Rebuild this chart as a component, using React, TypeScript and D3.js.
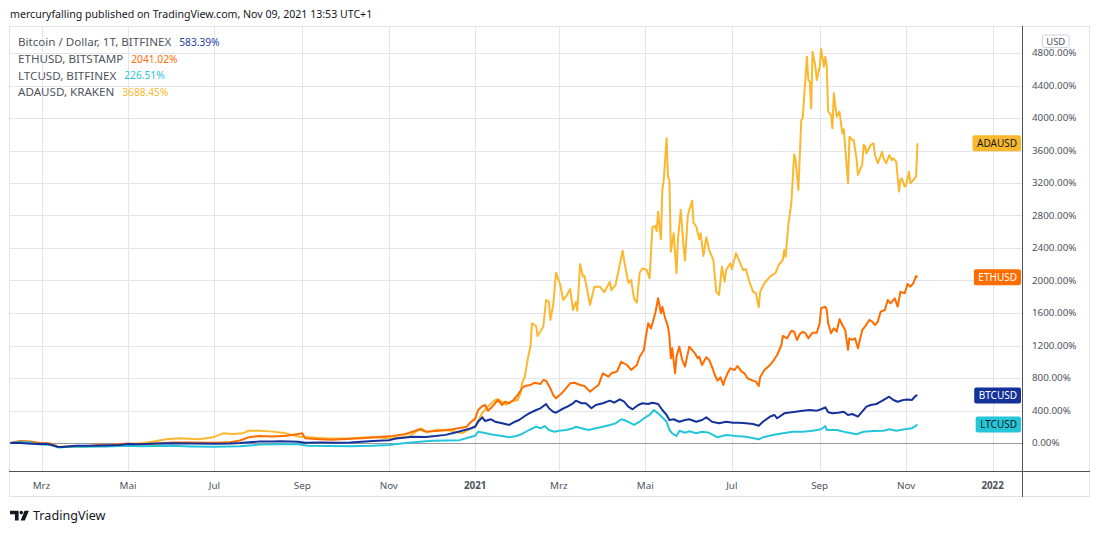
import React, { useEffect, useRef } from 'react';
import * as d3 from 'd3';

type Pt = [string, number];

// % change since the first visible bar
const btcSeries: Pt[] = [
  ['2020-02-08', 0], ['2020-02-13', 3], ['2020-02-20', -5], ['2020-02-27', -13], ['2020-03-05', -10],
  ['2020-03-12', -45], ['2020-03-16', -50], ['2020-03-25', -33], ['2020-04-05', -33], ['2020-04-15', -30],
  ['2020-04-25', -25], ['2020-05-01', -12], ['2020-05-10', -15], ['2020-05-20', -5], ['2020-06-01', -2],
  ['2020-06-15', -7], ['2020-07-01', -8], ['2020-07-12', -6], ['2020-07-19', 0], ['2020-07-28', 12],
  ['2020-08-02', 20], ['2020-08-11', 18], ['2020-08-17', 22], ['2020-08-29', 14], ['2020-09-03', 3],
  ['2020-09-15', 5], ['2020-09-25', 4], ['2020-10-05', 5], ['2020-10-10', 12], ['2020-10-21', 25],
  ['2020-11-01', 35], ['2020-11-06', 55], ['2020-11-18', 78], ['2020-11-27', 75], ['2020-12-04', 86],
  ['2020-12-11', 100], ['2020-12-18', 130], ['2020-12-28', 175], ['2021-01-01', 200], ['2021-01-03', 262],
  ['2021-01-06', 316], ['2021-01-08', 270], ['2021-01-12', 292], ['2021-01-15', 262], ['2021-01-20', 242],
  ['2021-01-25', 222], ['2021-01-29', 262], ['2021-02-01', 283], ['2021-02-05', 332], ['2021-02-08', 365],
  ['2021-02-13', 406], ['2021-02-16', 427], ['2021-02-20', 480], ['2021-02-22', 427], ['2021-02-25', 385],
  ['2021-02-27', 373], ['2021-03-03', 415], ['2021-03-07', 447], ['2021-03-11', 489], ['2021-03-13', 521],
  ['2021-03-17', 489], ['2021-03-20', 489], ['2021-03-24', 427], ['2021-03-27', 468], ['2021-04-01', 489],
  ['2021-04-06', 521], ['2021-04-09', 496], ['2021-04-13', 538], ['2021-04-16', 509], ['2021-04-19', 447],
  ['2021-04-22', 415], ['2021-04-26', 468], ['2021-04-29', 489], ['2021-05-03', 480], ['2021-05-06', 496],
  ['2021-05-10', 480], ['2021-05-13', 406], ['2021-05-16', 345], ['2021-05-18', 283], ['2021-05-21', 292],
  ['2021-05-25', 262], ['2021-05-29', 283], ['2021-06-01', 292], ['2021-06-06', 262], ['2021-06-10', 283],
  ['2021-06-13', 316], ['2021-06-17', 262], ['2021-06-22', 242], ['2021-06-27', 262], ['2021-07-02', 250],
  ['2021-07-06', 250], ['2021-07-11', 242], ['2021-07-16', 234], ['2021-07-20', 213], ['2021-07-23', 262],
  ['2021-07-28', 324], ['2021-07-31', 345], ['2021-08-02', 304], ['2021-08-07', 365], ['2021-08-12', 378],
  ['2021-08-15', 385], ['2021-08-20', 398], ['2021-08-25', 406], ['2021-08-30', 398], ['2021-09-02', 415],
  ['2021-09-05', 439], ['2021-09-07', 378], ['2021-09-10', 365], ['2021-09-14', 373], ['2021-09-18', 385],
  ['2021-09-21', 345], ['2021-09-24', 357], ['2021-09-28', 324], ['2021-10-01', 385], ['2021-10-04', 447],
  ['2021-10-07', 468], ['2021-10-11', 480], ['2021-10-14', 508], ['2021-10-18', 550], ['2021-10-20', 570],
  ['2021-10-23', 529], ['2021-10-26', 508], ['2021-10-30', 529], ['2021-11-02', 535], ['2021-11-05', 529],
  ['2021-11-08', 585], ['2021-11-09', 583.39],
];

const ethSeries: Pt[] = [
  ['2020-02-08', 0], ['2020-02-15', 25], ['2020-02-22', 18], ['2020-02-29', 0], ['2020-03-07', -5],
  ['2020-03-13', -48], ['2020-03-20', -42], ['2020-04-01', -40], ['2020-04-10', -25], ['2020-04-20', -22],
  ['2020-05-01', -5], ['2020-05-10', -15], ['2020-05-20', -8], ['2020-06-01', 5], ['2020-06-15', 5],
  ['2020-07-01', 2], ['2020-07-12', 10], ['2020-07-19', 30], ['2020-07-26', 75], ['2020-08-02', 85],
  ['2020-08-11', 80], ['2020-08-21', 90], ['2020-08-29', 111], ['2020-09-01', 119], ['2020-09-03', 58],
  ['2020-09-13', 45], ['2020-09-22', 40], ['2020-10-02', 50], ['2020-10-16', 62], ['2020-10-25', 75],
  ['2020-11-04', 86], ['2020-11-13', 111], ['2020-11-23', 169], ['2020-11-27', 140], ['2020-12-07', 151],
  ['2020-12-16', 169], ['2020-12-26', 201], ['2020-12-28', 242], ['2021-01-01', 300], ['2021-01-03', 406],
  ['2021-01-06', 455], ['2021-01-08', 468], ['2021-01-10', 397], ['2021-01-13', 447], ['2021-01-15', 489],
  ['2021-01-17', 529], ['2021-01-20', 468], ['2021-01-22', 509], ['2021-01-25', 489], ['2021-01-28', 529],
  ['2021-01-31', 591], ['2021-02-03', 673], ['2021-02-05', 701], ['2021-02-09', 714], ['2021-02-12', 742],
  ['2021-02-16', 726], ['2021-02-18', 775], ['2021-02-20', 767], ['2021-02-23', 673], ['2021-02-25', 591],
  ['2021-02-27', 550], ['2021-03-03', 611], ['2021-03-06', 673], ['2021-03-09', 734], ['2021-03-12', 742],
  ['2021-03-16', 714], ['2021-03-19', 701], ['2021-03-23', 632], ['2021-03-25', 662], ['2021-03-29', 714],
  ['2021-04-01', 858], ['2021-04-05', 817], ['2021-04-07', 858], ['2021-04-11', 878], ['2021-04-14', 1000],
  ['2021-04-18', 960], ['2021-04-21', 899], ['2021-04-25', 960], ['2021-04-27', 1062], ['2021-04-30', 1145],
  ['2021-05-01', 1268], ['2021-05-03', 1473], ['2021-05-05', 1411], ['2021-05-07', 1535], ['2021-05-08', 1596],
  ['2021-05-10', 1781], ['2021-05-12', 1596], ['2021-05-13', 1678], ['2021-05-15', 1535], ['2021-05-17', 1432],
  ['2021-05-18', 1309], ['2021-05-19', 1043], ['2021-05-20', 1165], ['2021-05-22', 858], ['2021-05-23', 1063],
  ['2021-05-25', 1186], ['2021-05-27', 1022], ['2021-05-29', 940], ['2021-06-01', 1186], ['2021-06-03', 1145],
  ['2021-06-05', 1104], ['2021-06-07', 1043], ['2021-06-08', 1063], ['2021-06-10', 960], ['2021-06-13', 1055],
  ['2021-06-15', 1022], ['2021-06-17', 940], ['2021-06-19', 837], ['2021-06-21', 767], ['2021-06-23', 808],
  ['2021-06-25', 714], ['2021-06-26', 776], ['2021-06-28', 858], ['2021-06-30', 919], ['2021-07-03', 899],
  ['2021-07-05', 948], ['2021-07-08', 878], ['2021-07-10', 858], ['2021-07-12', 796], ['2021-07-16', 767],
  ['2021-07-18', 755], ['2021-07-20', 701], ['2021-07-21', 808], ['2021-07-24', 899], ['2021-07-28', 960],
  ['2021-07-31', 1030], ['2021-08-02', 1083], ['2021-08-05', 1206], ['2021-08-06', 1317], ['2021-08-09', 1288],
  ['2021-08-12', 1382], ['2021-08-14', 1370], ['2021-08-16', 1268], ['2021-08-18', 1342], ['2021-08-20', 1370],
  ['2021-08-22', 1350], ['2021-08-24', 1288], ['2021-08-27', 1358], ['2021-08-30', 1358], ['2021-09-01', 1473],
  ['2021-09-02', 1658], ['2021-09-05', 1678], ['2021-09-06', 1637], ['2021-09-07', 1473], ['2021-09-09', 1350],
  ['2021-09-11', 1411], ['2021-09-13', 1370], ['2021-09-15', 1523], ['2021-09-17', 1452], ['2021-09-19', 1391],
  ['2021-09-21', 1145], ['2021-09-22', 1288], ['2021-09-24', 1268], ['2021-09-26', 1288], ['2021-09-28', 1165],
  ['2021-10-01', 1391], ['2021-10-03', 1432], ['2021-10-06', 1514], ['2021-10-08', 1494], ['2021-10-10', 1452],
  ['2021-10-12', 1494], ['2021-10-14', 1616], ['2021-10-17', 1637], ['2021-10-19', 1760], ['2021-10-21', 1719],
  ['2021-10-24', 1781], ['2021-10-26', 1678], ['2021-10-28', 1862], ['2021-10-31', 1842], ['2021-11-02', 1957],
  ['2021-11-04', 1924], ['2021-11-06', 1965], ['2021-11-08', 2055], ['2021-11-09', 2041.02],
];

const ltcSeries: Pt[] = [
  ['2020-02-08', 0], ['2020-02-15', 12], ['2020-02-22', 5], ['2020-02-29', -20], ['2020-03-08', -25],
  ['2020-03-13', -55], ['2020-03-20', -45], ['2020-04-01', -45], ['2020-04-15', -43], ['2020-05-01', -35],
  ['2020-05-10', -40], ['2020-05-20', -38], ['2020-06-01', -35], ['2020-06-15', -42], ['2020-07-01', -45],
  ['2020-07-19', -40], ['2020-08-02', -20], ['2020-08-15', -15], ['2020-08-29', -15], ['2020-09-05', -35],
  ['2020-09-20', -38], ['2020-10-05', -40], ['2020-10-20', -35], ['2020-11-01', -25], ['2020-11-13', 0],
  ['2020-11-23', 16], ['2020-12-02', 28], ['2020-12-11', 30], ['2020-12-21', 35], ['2020-12-28', 70],
  ['2021-01-01', 90], ['2021-01-03', 139], ['2021-01-07', 127], ['2021-01-11', 111], ['2021-01-15', 98],
  ['2021-01-20', 86], ['2021-01-25', 70], ['2021-01-30', 86], ['2021-02-03', 111], ['2021-02-08', 160],
  ['2021-02-13', 201], ['2021-02-16', 181], ['2021-02-19', 209], ['2021-02-22', 160], ['2021-02-26', 139],
  ['2021-03-01', 151], ['2021-03-06', 160], ['2021-03-11', 181], ['2021-03-13', 201], ['2021-03-17', 181],
  ['2021-03-22', 160], ['2021-03-27', 181], ['2021-04-01', 201], ['2021-04-06', 222], ['2021-04-10', 242],
  ['2021-04-14', 292], ['2021-04-16', 283], ['2021-04-20', 250], ['2021-04-23', 222], ['2021-04-27', 262],
  ['2021-04-30', 304], ['2021-05-04', 345], ['2021-05-07', 406], ['2021-05-10', 365], ['2021-05-12', 332],
  ['2021-05-16', 262], ['2021-05-18', 160], ['2021-05-20', 119], ['2021-05-23', 86], ['2021-05-25', 151],
  ['2021-05-29', 127], ['2021-06-01', 145], ['2021-06-06', 119], ['2021-06-10', 139], ['2021-06-15', 125],
  ['2021-06-21', 70], ['2021-06-27', 98], ['2021-07-04', 86], ['2021-07-11', 78], ['2021-07-20', 45],
  ['2021-07-23', 70], ['2021-07-30', 98], ['2021-08-06', 119], ['2021-08-13', 139], ['2021-08-20', 139],
  ['2021-08-27', 151], ['2021-09-02', 169], ['2021-09-05', 209], ['2021-09-06', 160], ['2021-09-13', 160],
  ['2021-09-20', 131], ['2021-09-27', 107], ['2021-10-02', 139], ['2021-10-09', 148], ['2021-10-16', 151],
  ['2021-10-20', 169], ['2021-10-25', 151], ['2021-10-31', 169], ['2021-11-05', 181], ['2021-11-09', 226.51],
];

const adaSeries: Pt[] = [
  ['2020-02-08', 0], ['2020-02-15', 15], ['2020-02-22', 5], ['2020-02-29', -10], ['2020-03-07', -15],
  ['2020-03-13', -50], ['2020-03-20', -45], ['2020-04-01', -40], ['2020-04-15', -35], ['2020-05-01', -15],
  ['2020-05-15', 5], ['2020-05-28', 45], ['2020-06-06', 58], ['2020-06-20', 45], ['2020-06-30', 70],
  ['2020-07-07', 119], ['2020-07-14', 110], ['2020-07-21', 119], ['2020-07-25', 151], ['2020-08-02', 151],
  ['2020-08-11', 140], ['2020-08-18', 127], ['2020-08-25', 98], ['2020-08-30', 78], ['2020-09-05', 70],
  ['2020-09-20', 55], ['2020-10-05', 60], ['2020-10-20', 75], ['2020-11-03', 55], ['2020-11-15', 80],
  ['2020-11-24', 180], ['2020-11-28', 130], ['2020-12-05', 165], ['2020-12-15', 150], ['2020-12-23', 120],
  ['2020-12-28', 170], ['2021-01-01', 210], ['2021-01-06', 370], ['2021-01-10', 450], ['2021-01-15', 530],
  ['2021-01-17', 540], ['2021-01-23', 470], ['2021-01-26', 510], ['2021-01-31', 530], ['2021-02-02', 610],
  ['2021-02-03', 735], ['2021-02-05', 818], ['2021-02-07', 1030], ['2021-02-09', 1190], ['2021-02-10', 1473],
  ['2021-02-13', 1440], ['2021-02-14', 1317], ['2021-02-18', 1431], ['2021-02-20', 1760], ['2021-02-22', 1739],
  ['2021-02-23', 1514], ['2021-02-25', 1698], ['2021-02-27', 2096], ['2021-03-02', 1945], ['2021-03-04', 1760],
  ['2021-03-06', 1801], ['2021-03-09', 1895], ['2021-03-11', 1637], ['2021-03-13', 1739], ['2021-03-14', 1628],
  ['2021-03-16', 2203], ['2021-03-18', 2047], ['2021-03-19', 2059], ['2021-03-21', 1883], ['2021-03-23', 1698],
  ['2021-03-26', 1924], ['2021-03-30', 1924], ['2021-04-02', 1855], ['2021-04-06', 1985], ['2021-04-07', 1883],
  ['2021-04-10', 1945], ['2021-04-15', 2367], ['2021-04-16', 2252], ['2021-04-19', 1973], ['2021-04-21', 2006],
  ['2021-04-23', 1781], ['2021-04-25', 1727], ['2021-04-27', 2096], ['2021-04-29', 2150], ['2021-05-02', 2129],
  ['2021-05-04', 2027], ['2021-05-06', 2655], ['2021-05-08', 2671], ['2021-05-09', 2609], ['2021-05-10', 2847],
  ['2021-05-11', 2662], ['2021-05-12', 2507], ['2021-05-13', 3114], ['2021-05-14', 3237], ['2021-05-16', 3750],
  ['2021-05-17', 3278], ['2021-05-18', 3237], ['2021-05-19', 2355], ['2021-05-21', 2581], ['2021-05-23', 2089],
  ['2021-05-24', 2499], ['2021-05-26', 2868], ['2021-05-28', 2416], ['2021-05-29', 2244], ['2021-05-31', 2806],
  ['2021-06-03', 2982], ['2021-06-04', 2711], ['2021-06-06', 2662], ['2021-06-08', 2507], ['2021-06-09', 2581],
  ['2021-06-11', 2302], ['2021-06-13', 2532], ['2021-06-15', 2375], ['2021-06-18', 2252], ['2021-06-20', 1862],
  ['2021-06-22', 1822], ['2021-06-24', 2170], ['2021-06-26', 1985], ['2021-06-27', 2129], ['2021-06-30', 2212],
  ['2021-07-01', 2138], ['2021-07-04', 2335], ['2021-07-06', 2252], ['2021-07-09', 2129], ['2021-07-11', 2138],
  ['2021-07-13', 2006], ['2021-07-16', 1862], ['2021-07-18', 1842], ['2021-07-20', 1670], ['2021-07-21', 1862],
  ['2021-07-24', 1966], ['2021-07-28', 2047], ['2021-08-01', 2096], ['2021-08-03', 2191], ['2021-08-06', 2252],
  ['2021-08-07', 2375], ['2021-08-08', 2293], ['2021-08-10', 2704], ['2021-08-12', 2950], ['2021-08-14', 3553],
  ['2021-08-15', 3483], ['2021-08-17', 3114], ['2021-08-19', 3975], ['2021-08-20', 3996], ['2021-08-23', 4755],
  ['2021-08-24', 4468], ['2021-08-25', 4447], ['2021-08-26', 4120], ['2021-08-27', 4816], ['2021-08-29', 4632],
  ['2021-08-30', 4468], ['2021-09-01', 4632], ['2021-09-02', 4849], ['2021-09-04', 4632], ['2021-09-05', 4755],
  ['2021-09-06', 4632], ['2021-09-07', 4078], ['2021-09-09', 4037], ['2021-09-10', 3873], ['2021-09-11', 4304],
  ['2021-09-13', 4016], ['2021-09-15', 4078], ['2021-09-17', 3812], ['2021-09-18', 3861], ['2021-09-21', 3196],
  ['2021-09-22', 3770], ['2021-09-24', 3729], ['2021-09-25', 3729], ['2021-09-27', 3504], ['2021-09-28', 3299],
  ['2021-10-01', 3422], ['2021-10-02', 3668], ['2021-10-03', 3655], ['2021-10-04', 3566], ['2021-10-07', 3668],
  ['2021-10-09', 3689], ['2021-10-10', 3545], ['2021-10-12', 3443], ['2021-10-14', 3532], ['2021-10-15', 3585],
  ['2021-10-16', 3504], ['2021-10-18', 3443], ['2021-10-20', 3545], ['2021-10-22', 3483], ['2021-10-23', 3504],
  ['2021-10-25', 3462], ['2021-10-27', 3093], ['2021-10-28', 3237], ['2021-10-29', 3258], ['2021-10-31', 3155],
  ['2021-11-01', 3176], ['2021-11-03', 3339], ['2021-11-04', 3196], ['2021-11-07', 3258], ['2021-11-08', 3278],
  ['2021-11-09', 3688.45],
];

const xTickDates = [
  '2020-03-01', '2020-05-01', '2020-07-01', '2020-09-01', '2020-11-01', '2021-01-01',
  '2021-03-01', '2021-05-01', '2021-07-01', '2021-09-01', '2021-11-01', '2022-01-01',
];
const xTickLabels = ['Mrz', 'Mai', 'Jul', 'Sep', 'Nov', '2021', 'Mrz', 'Mai', 'Jul', 'Sep', 'Nov', '2022'];
const yTicks = [0, 400, 800, 1200, 1600, 2000, 2400, 2800, 3200, 3600, 4000, 4400, 4800];

const legendLabels = ['Bitcoin / Dollar, 1T, BITFINEX', 'ETHUSD, BITSTAMP', 'LTCUSD, BITFINEX', 'ADAUSD, KRAKEN'];
const legendValues = ['583.39%', '2041.02%', '226.51%', '3688.45%'];

const FONT = '"Noto Sans", "DejaVu Sans", sans-serif';

const App: React.FC = () => {
  const svgRef = useRef<SVGSVGElement>(null);

  useEffect(() => {
    if (!svgRef.current) return;
    const width = 1100;
    const height = 534;
    const box = { left: 9, top: 26, right: 1090, bottom: 497 };
    const plotRight = 1022;
    const plotBottom = 471;

    const svg = d3.select(svgRef.current);
    svg.selectAll('*').remove();
    svg.attr('width', width).attr('height', height);

    const parse = d3.timeParse('%Y-%m-%d');
    const x = d3.scaleTime()
      .domain([parse('2020-03-01') as Date, parse('2022-01-01') as Date])
      .range([41.5, 992.6]);
    const y = d3.scaleLinear().domain([0, 4800]).range([443, 53]);

    svg.append('rect').attr('width', width).attr('height', height).attr('fill', '#ffffff');

    // title
    svg.append('text')
      .attr('x', 10).attr('y', 18)
      .style('font-family', FONT).style('font-size', '10.6px').style('fill', '#131722')
      .text('mercuryfalling published on TradingView.com, Nov 09, 2021 13:53 UTC+1');

    // frame
    svg.append('rect')
      .attr('x', box.left + 0.5).attr('y', box.top + 0.5)
      .attr('width', box.right - box.left - 1).attr('height', box.bottom - box.top - 1)
      .attr('fill', 'none').attr('stroke', '#e0e3eb');

    // grid
    const grid = svg.append('g');
    grid.selectAll('.hgrid').data(yTicks.filter(v => v !== 0)).enter().append('line')
      .attr('x1', box.left + 1).attr('x2', plotRight)
      .attr('y1', d => Math.round(y(d)) + 0.5).attr('y2', d => Math.round(y(d)) + 0.5)
      .attr('stroke', '#e3e5ea');
    grid.selectAll('.vgrid').data(xTickDates).enter().append('line')
      .attr('x1', d => Math.round(x(parse(d) as Date)) + 0.5)
      .attr('x2', d => Math.round(x(parse(d) as Date)) + 0.5)
      .attr('y1', box.top + 1).attr('y2', plotBottom)
      .attr('stroke', '#e3e5ea');

    // zero baseline
    svg.append('line')
      .attr('x1', box.left + 1).attr('x2', plotRight)
      .attr('y1', Math.round(y(0)) + 0.5).attr('y2', Math.round(y(0)) + 0.5)
      .attr('stroke', '#9598a1');

    // lines
    svg.append('clipPath').attr('id', 'plot-clip').append('rect')
      .attr('x', box.left + 1).attr('y', box.top + 1)
      .attr('width', plotRight - box.left - 1).attr('height', plotBottom - box.top - 1);

    const line = d3.line<Pt>()
      .x(d => x(parse(d[0]) as Date))
      .y(d => y(d[1]));

    const series = [
      { data: adaSeries, color: '#fbb82f' },
      { data: ethSeries, color: '#ff6d00' },
      { data: ltcSeries, color: '#26c6da' },
      { data: btcSeries, color: '#14329a' },
    ];
    const linesG = svg.append('g').attr('clip-path', 'url(#plot-clip)');
    series.forEach(s => {
      linesG.append('path')
        .datum(s.data)
        .attr('d', line)
        .attr('fill', 'none')
        .attr('stroke', s.color)
        .attr('stroke-width', 2)
        .attr('stroke-linejoin', 'round');
    });

    // axes borders
    svg.append('line')
      .attr('x1', plotRight + 0.5).attr('x2', plotRight + 0.5)
      .attr('y1', box.top).attr('y2', box.bottom)
      .attr('stroke', '#50535e');
    svg.append('line')
      .attr('x1', box.left).attr('x2', box.right)
      .attr('y1', plotBottom + 0.5).attr('y2', plotBottom + 0.5)
      .attr('stroke', '#50535e');

    // y labels
    svg.selectAll('.ylab').data(yTicks).enter().append('text')
      .attr('x', 1032).attr('y', d => y(d))
      .attr('dy', '0.35em')
      .style('font-family', FONT).style('font-size', '9.8px').style('fill', '#4c525e')
      .text(d => `${d}.00%`);

    // x labels
    svg.selectAll('.xlab').data(xTickDates).enter().append('text')
      .attr('x', d => x(parse(d) as Date)).attr('y', 486)
      .attr('dy', '0.35em')
      .attr('text-anchor', 'middle')
      .style('font-family', FONT).style('font-size', '9.8px')
      .style('font-weight', (_d, i) => (xTickLabels[i].length === 4 ? 'bold' : 'normal'))
      .style('fill', '#4c525e')
      .text((_d, i) => xTickLabels[i]);

    // USD badge
    svg.append('rect')
      .attr('x', 1042.5).attr('y', 35).attr('width', 26.5).attr('height', 12.5).attr('rx', 2)
      .attr('fill', '#ffffff').attr('stroke', '#d1d4dc');
    svg.append('text')
      .attr('x', 1055.75).attr('y', 41.3).attr('dy', '0.35em').attr('text-anchor', 'middle')
      .style('font-family', FONT).style('font-size', '9.5px').style('fill', '#4c525e')
      .text('USD');

    // last-value badges
    const badges = [
      { label: 'ADAUSD', value: 3688.45, bg: '#f9b82d', fg: '#131722' },
      { label: 'ETHUSD', value: 2041.02, bg: '#ff6d00', fg: '#ffffff' },
      { label: 'BTCUSD', value: 583.39, bg: '#14329a', fg: '#ffffff' },
      { label: 'LTCUSD', value: 226.51, bg: '#26c6da', fg: '#131722' },
    ];
    badges.forEach(b => {
      const g = svg.append('g');
      const r = g.append('rect').attr('fill', b.bg).attr('rx', 2);
      const t = g.append('text')
        .attr('x', 1017).attr('y', y(b.value)).attr('dy', '0.35em')
        .attr('text-anchor', 'end')
        .style('font-family', FONT).style('font-size', '10px').style('fill', b.fg)
        .text(b.label);
      const w = (t.node() as SVGTextElement).getComputedTextLength();
      r.attr('x', 1017 - w - 4.5).attr('y', y(b.value) - 8).attr('width', w + 8.5).attr('height', 16);
    });

    // legend
    const legendColors = ['#1e3ea8', '#ff6d00', '#26c6da', '#f9b82d'];
    legendLabels.forEach((lab, i) => {
      const yy = 42.3 + i * 16.7;
      const t = svg.append('text')
        .attr('x', 18).attr('y', yy).attr('dy', '0.35em')
        .style('font-family', FONT).style('font-size', '11.6px').style('fill', '#50535e')
        .text(lab);
      const w = (t.node() as SVGTextElement).getComputedTextLength();
      svg.append('text')
        .attr('x', 18 + w + 8).attr('y', yy).attr('dy', '0.35em')
        .style('font-family', FONT).style('font-size', '10.2px').style('fill', legendColors[i])
        .text(legendValues[i]);
    });

    // TradingView watermark
    const logo = svg.append('g').attr('fill', '#131722');
    logo.append('path').attr('d', 'M10,510.8 H18.6 V520.4 H14.9 V514.2 H10 Z');
    logo.append('circle').attr('cx', 21.3).attr('cy', 512.6).attr('r', 1.8);
    logo.append('path').attr('d', 'M24.6,510.8 H28.9 L24.8,520.4 H20.6 Z');
    svg.append('text')
      .attr('x', 33).attr('y', 520.2)
      .style('font-family', FONT).style('font-size', '12.6px').style('fill', '#131722')
      .text('TradingView');
  }, []);

  return (
    <div style={{ position: 'absolute', left: 0, top: 0 }}>
      <svg ref={svgRef} style={{ display: 'block' }}></svg>
    </div>
  );
};

export default App;
